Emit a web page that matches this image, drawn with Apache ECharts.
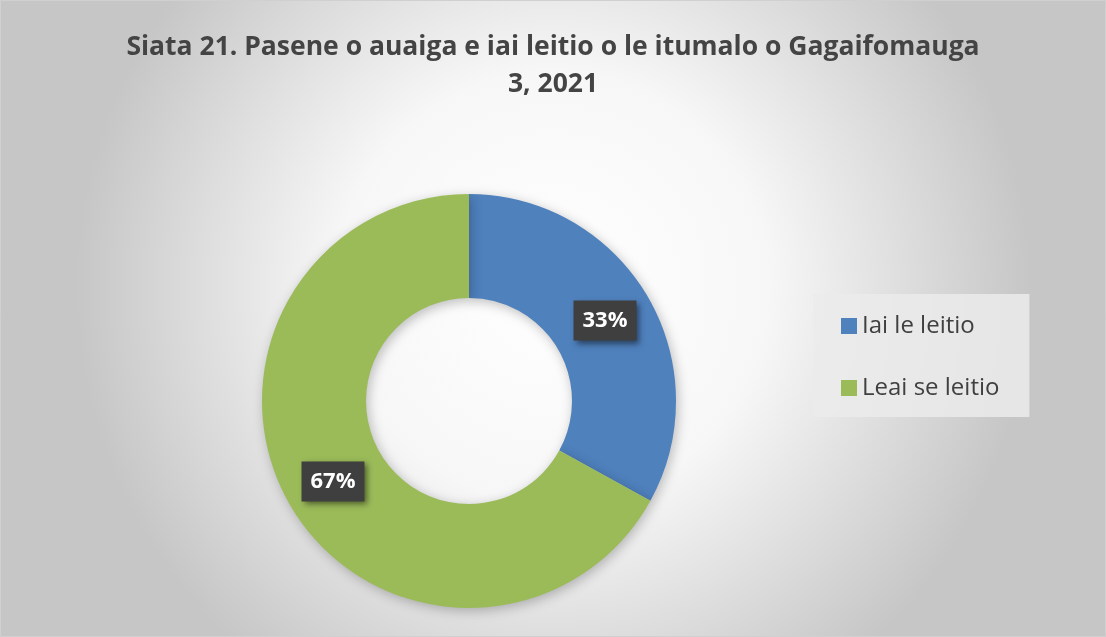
<!DOCTYPE html>
<html>
<head>
<meta charset="utf-8">
<script src="https://cdn.jsdelivr.net/npm/echarts@6/dist/echarts.min.js"></script>
<style>
html,body{margin:0;padding:0;}
#main{width:1106px;height:637px;}
</style>
</head>
<body>
<div id="main"></div>
<script>
var titleText = 'Siata 21. Pasene o auaiga e iai leitio o le itumalo o Gagaifomauga\n3, 2021';
var categories = ['Iai le leitio', 'Leai se leitio'];
var percents = [33, 67];
var colors = ['#4f81bd', '#9bbb59'];

var myChart = echarts.init(document.getElementById('main'));
var option = {
	backgroundColor: {
		type: 'radial', x: 0.5, y: 0.45, r: 0.75,
		colorStops: [{offset: 0, color: '#ffffff'}, {offset: 0.45, color: '#f7f7f7'}, {offset: 1, color: '#c6c6c6'}]
	},
	color: colors,
	title: {
		text: titleText,
		left: 'center',
		top: 24,
		textStyle: {
			fontFamily: 'Open Sans',
			fontSize: 26.5,
			fontWeight: 'bold',
			color: '#444444',
			lineHeight: 37
		}
	},
	legend: {
		orient: 'vertical',
		left: 813,
		top: 294,
		padding: [20, 30, 17, 28],
		itemGap: 38,
		itemWidth: 16,
		itemHeight: 16,
		backgroundColor: 'rgba(235,235,235,0.85)',
		textStyle: {fontFamily: 'Open Sans', fontSize: 24, color: '#404040'},
		icon: 'rect',
		data: categories
	},
	series: [{
		type: 'pie',
		center: [469, 401],
		radius: [103, 207],
		startAngle: 90,
		clockwise: true,
		silent: true,
		itemStyle: {shadowBlur: 12, shadowColor: 'rgba(0,0,0,0.25)', shadowOffsetX: 2, shadowOffsetY: 3},
		label: {
			show: true,
			position: 'inside',
			formatter: '{c}%',
			fontFamily: 'Open Sans',
			fontSize: 22,
			fontWeight: 'bold',
			color: '#ffffff',
			backgroundColor: '#3f3f3f',
			padding: [10, 9, 8, 9],
			shadowBlur: 6,
			shadowColor: 'rgba(0,0,0,0.5)',
			shadowOffsetX: 3,
			shadowOffsetY: 3
		},
		labelLine: {show: false},
		data: categories.map(function (c, i) { return {name: c, value: percents[i]}; })
	}],
	graphic: [{
		type: 'rect',
		shape: {x: 0.5, y: 0.5, width: 1105, height: 636},
		style: {fill: 'none', stroke: '#d0d0d0', lineWidth: 1},
		silent: true
	}]
};
myChart.setOption(option);
</script>
</body>
</html>
